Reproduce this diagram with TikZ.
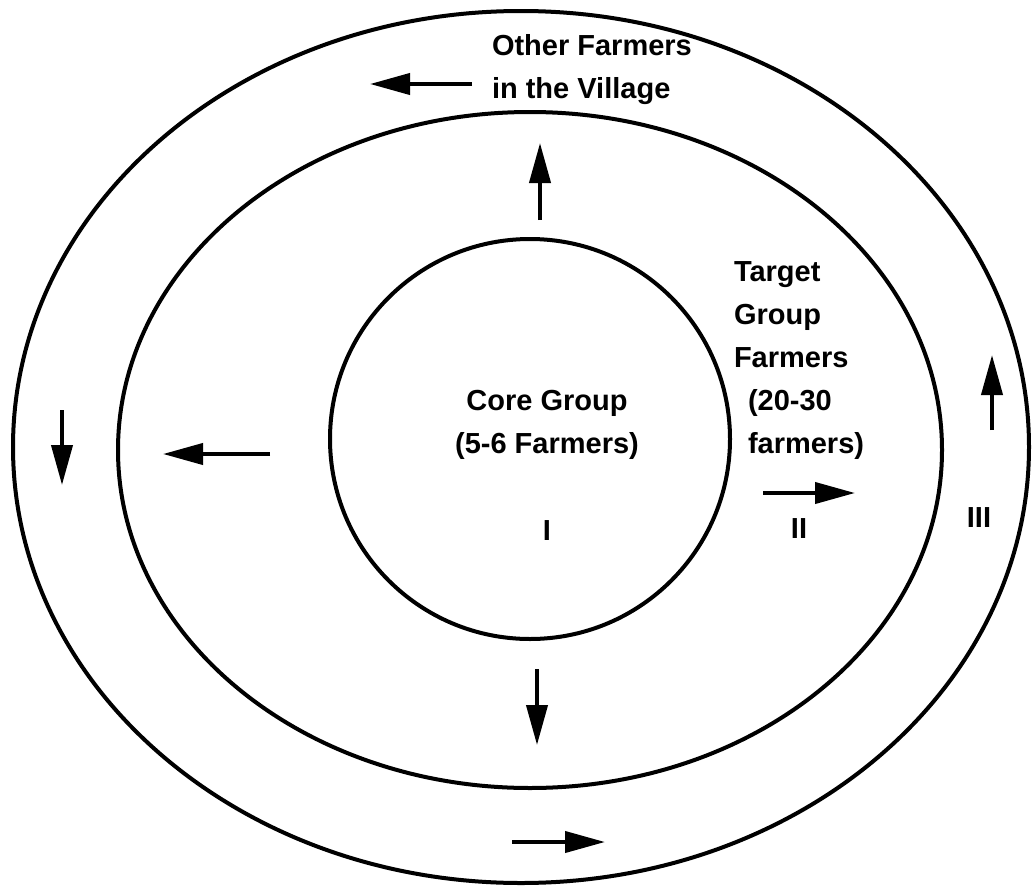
\documentclass[tikz,border=0pt]{standalone}
\usepackage{fontspec}
\setmainfont{Liberation Sans}
\usetikzlibrary{arrows.meta,shapes.geometric}

\begin{document}
\begin{tikzpicture}[x=1pt,y=-1pt,line width=4pt,
		                    flow/.style={-{Triangle[length=40pt,width=21pt]}},
		                    ring/.style={draw,ellipse,inner sep=0pt},
		                    lbl/.style={inner sep=0pt,font=\fontsize{29}{43}\selectfont\bfseries}]
		  %\draw[help lines] (0,0) grid[step=100] (1033,886);
		  \useasboundingbox (0,0) rectangle (1033,886);

		  \node[ring,minimum width=1016pt,minimum height=872pt] (village) at (521,447) {};
		  \node[ring,minimum width=824pt,minimum height=676pt]  (target)  at (530,450) {};
		  \node[draw,circle,inner sep=0pt,minimum size=400pt]   (core)    at (530,439) {};

		  % base of a multi-line node sits on its last line
		  \node[lbl,anchor=base west,align=left] (villagetxt) at (490,98) {Other Farmers\\in the Village};
		  \node[lbl,anchor=base,align=center]    (coretxt)    at (547,453) {Core Group\\(5-6 Farmers)};
		  \node[lbl,anchor=base west,align=left] (targettxt)  at (732,453)
		        {Target\\Group\\Farmers\\\hspace*{14pt}(20-30\\\hspace*{14pt}farmers)};
		  \node[lbl,anchor=base] (one)   at (547,540) {I};
		  \node[lbl,anchor=base] (two)   at (799,538) {II};
		  \node[lbl,anchor=base] (three) at (979,527) {III};

		  % spreading from the core outwards
		  \coordinate (u1) at (540,220); \coordinate (u2) at (540,143);
		  \coordinate (l1) at (270,454); \coordinate (l2) at (163,454);
		  \coordinate (d1) at (537,669); \coordinate (d2) at (537,745);
		  \coordinate (r1) at (763,493); \coordinate (r2) at (855,493);
		  % and round the outer ring
		  \coordinate (t1) at (472,84);  \coordinate (t2) at (370,84);
		  \coordinate (w1) at (62,410);  \coordinate (w2) at (62,485);
		  \coordinate (b1) at (512,842); \coordinate (b2) at (605,842);
		  \coordinate (e1) at (992,430); \coordinate (e2) at (992,355);

		  \foreach \s/\t in {u1/u2,l1/l2,d1/d2,r1/r2,t1/t2,w1/w2,b1/b2,e1/e2}
		    \draw[flow] (\s) -- (\t);
		\end{tikzpicture}
\end{document}
